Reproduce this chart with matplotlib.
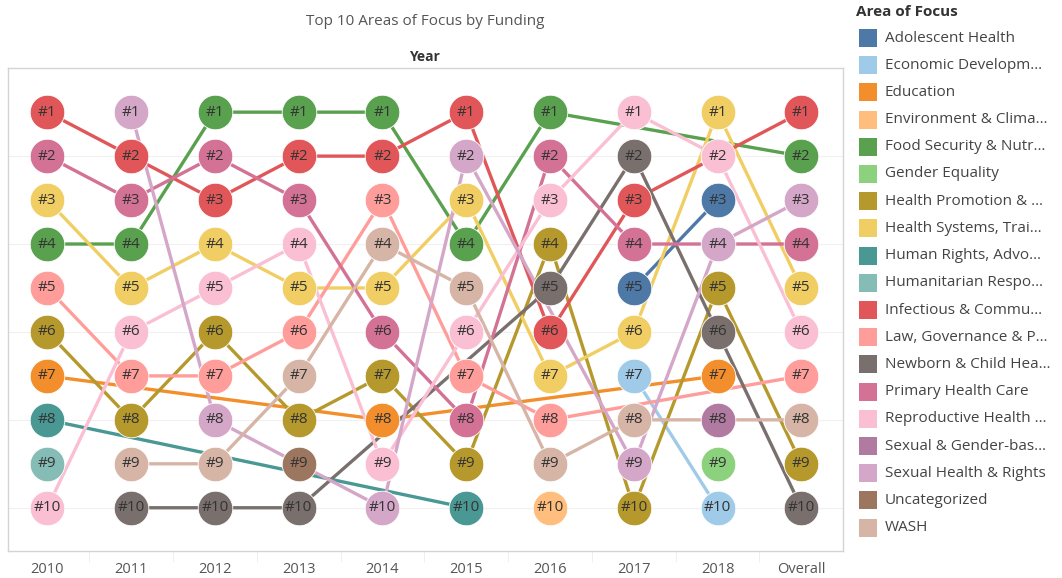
import matplotlib
matplotlib.use("Agg")
import matplotlib.pyplot as plt
from matplotlib.patches import Rectangle
import numpy as np

plt.rcParams["font.family"] = ["Open Sans", "DejaVu Sans"]

# Columns
years = ["2010", "2011", "2012", "2013", "2014", "2015", "2016", "2017", "2018", "Overall"]

# Areas of focus (short keys), legend text and Tableau-20 colours
areas = ["Adolescent", "EconDev", "Education", "Environment", "FoodSec", "Gender",
         "HealthPromo", "HealthSys", "HumanRights", "Humanitarian", "Infectious",
         "Law", "Newborn", "PHC", "Reproductive", "SGBV", "SHR", "Uncategorized", "WASH"]
legend_labels = ["Adolescent Health", "Economic Developm\u2026", "Education",
                 "Environment & Clima\u2026", "Food Security & Nutr\u2026", "Gender Equality",
                 "Health Promotion & \u2026", "Health Systems, Trai\u2026", "Human Rights, Advo\u2026",
                 "Humanitarian Respo\u2026", "Infectious & Commu\u2026", "Law, Governance & P\u2026",
                 "Newborn & Child Hea\u2026", "Primary Health Care", "Reproductive Health \u2026",
                 "Sexual & Gender-bas\u2026", "Sexual Health & Rights", "Uncategorized", "WASH"]
colors = ["#4e79a7", "#a0cbe8", "#f28e2b", "#ffbe7d", "#59a14f", "#8cd17d",
          "#b6992d", "#f1ce63", "#499894", "#86bcb6", "#e15759",
          "#ff9d9a", "#79706e", "#d37295", "#fabfd2", "#b07aa1", "#d4a6c8", "#9d7660", "#d7b5a6"]

# Top-10 per column, listed from #1 to #10
rank_2010 = ["Infectious", "PHC", "HealthSys", "FoodSec", "Law", "HealthPromo",
             "Education", "HumanRights", "Humanitarian", "Reproductive"]
rank_2011 = ["SHR", "Infectious", "PHC", "FoodSec", "HealthSys", "Reproductive",
             "Law", "HealthPromo", "WASH", "Newborn"]
rank_2012 = ["FoodSec", "PHC", "Infectious", "HealthSys", "Reproductive", "HealthPromo",
             "Law", "SHR", "WASH", "Newborn"]
rank_2013 = ["FoodSec", "Infectious", "PHC", "Reproductive", "HealthSys", "Law",
             "WASH", "HealthPromo", "Uncategorized", "Newborn"]
rank_2014 = ["FoodSec", "Infectious", "Law", "WASH", "HealthSys", "PHC",
             "HealthPromo", "Education", "Reproductive", "SHR"]
rank_2015 = ["Infectious", "SHR", "HealthSys", "FoodSec", "WASH", "Reproductive",
             "Law", "PHC", "HealthPromo", "HumanRights"]
rank_2016 = ["FoodSec", "PHC", "Reproductive", "HealthPromo", "Newborn", "Infectious",
             "HealthSys", "Law", "WASH", "Environment"]
rank_2017 = ["Reproductive", "Newborn", "Infectious", "PHC", "Adolescent", "HealthSys",
             "EconDev", "WASH", "SHR", "HealthPromo"]
rank_2018 = ["HealthSys", "Reproductive", "Adolescent", "SHR", "HealthPromo", "Newborn",
             "Education", "SGBV", "Gender", "EconDev"]
rank_overall = ["Infectious", "FoodSec", "SHR", "PHC", "HealthSys", "Reproductive",
                "Law", "WASH", "HealthPromo", "Newborn"]

columns = [rank_2010, rank_2011, rank_2012, rank_2013, rank_2014,
           rank_2015, rank_2016, rank_2017, rank_2018, rank_overall]

fig = plt.figure(figsize=(10.62, 5.78), dpi=100)
ax = fig.add_axes([0.0075, 0.047, 0.7865, 0.835])

color_of = dict(zip(areas, colors))

# Lines first, connecting every column where the area is in the top 10
for area in areas:
    xs, ys = [], []
    for i, col in enumerate(columns):
        if area in col:
            xs.append(i)
            ys.append(col.index(area) + 1)
    if len(xs) > 1:
        ax.plot(xs, ys, color=color_of[area], lw=2.4, zorder=2, solid_capstyle="round")

# Circles with rank labels
for i, col in enumerate(columns):
    for r, area in enumerate(col, start=1):
        ax.scatter(i, r, s=620, color=color_of[area], edgecolors="white",
                   linewidths=0.6, zorder=3)
        ax.text(i, r, f"#{r}", ha="center", va="center", fontsize=11,
                color="#333333", zorder=4)

ax.set_xlim(-0.47, 9.5)
ax.set_ylim(10.98, 0)
ax.set_xticks(range(len(years)))
ax.set_xticklabels(years, fontsize=10.5, color="#555555")
ax.set_xticks(np.arange(0.5, 9.5, 1), minor=True)
ax.tick_params(axis="x", which="major", length=0, pad=8)
ax.tick_params(axis="x", which="minor", length=8, color="#ececec")
ax.set_yticks([2, 4, 6, 8, 10])
ax.set_yticklabels([])
ax.tick_params(axis="y", length=0)
ax.grid(True, axis="y", color="#f0f0f0", lw=0.8, zorder=0)
for sp in ax.spines.values():
    sp.set_color("#d4d4d4")
    sp.set_linewidth(1.0)

fig.text(0.40, 0.962, "Top 10 Areas of Focus by Funding", ha="center", va="center",
         fontsize=11, color="#555555")
fig.text(0.40, 0.901, "Year", ha="center", va="center", fontsize=10,
         fontweight="bold", color="#333333")

# Legend drawn by hand in figure pixels
W, H = 1062, 578
fig.text(856 / W, 1 - 12 / H, "Area of Focus", ha="left", va="center",
         fontsize=11, fontweight="bold", color="#333333")
for k, (lab, c) in enumerate(zip(legend_labels, colors)):
    yc = 38 + k * 27.2
    fig.add_artist(Rectangle((859 / W, 1 - (yc + 9) / H), 18 / W, 18 / H,
                             transform=fig.transFigure, color=c, lw=0))
    fig.text(885 / W, 1 - yc / H, lab, ha="left", va="center",
             fontsize=11, color="#444444")

fig.savefig("out.png", dpi=100)
plt.close(fig)
